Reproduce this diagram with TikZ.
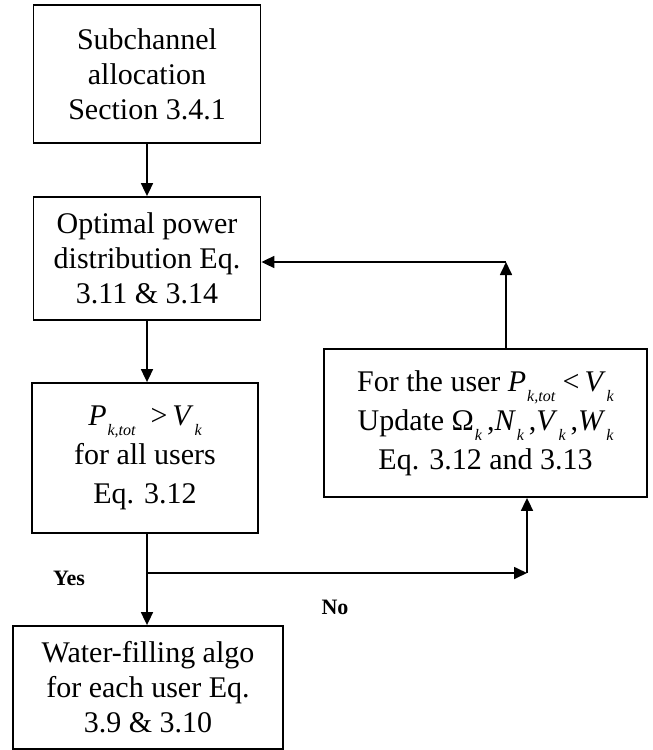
\documentclass[tikz,border=0pt]{standalone}
\usepackage{fontspec}
\setmainfont{Liberation Serif}
\usetikzlibrary{arrows.meta}
\newcommand\sbs[1]{\smash{\raisebox{-0.33em}{\fontsize{16}{16}\selectfont\itshape #1}}}
\newcommand\mv[2]{\textit{#1}\kern0.03em\sbs{#2}}
\newcommand\mvu[2]{#1\kern0.03em\sbs{#2}}
\begin{document}
\begin{tikzpicture}[x=1pt,y=-1pt,
  box/.style={draw,line width=1.8pt,align=center,font=\fontsize{30}{35}\selectfont,inner sep=0pt},
  wbox/.style={box,font=\fontsize{30}{39}\selectfont},
  arr/.style={line width=1.7pt,-{Triangle[length=13pt,width=12pt]}},
  ln/.style={line width=1.7pt},
  lab/.style={font=\fontsize{22}{24}\selectfont\bfseries}]
\useasboundingbox (0,0) rectangle (653,750);
\node[box,minimum width=227pt,minimum height=138pt] (sub) at (147,74) {Subchannel\\allocation\\Section 3.4.1};
\node[box,minimum width=227pt,minimum height=123pt] (opt) at (147,258.5) {Optimal power\\distribution Eq.\\3.11 \& 3.14};
\node[wbox,minimum width=226pt,minimum height=150pt] (cond) at (145,458) {\mv{P}{k,tot}\ \ >\,\mv{V}{k}\\for all users\\Eq. 3.12};
\node[box,minimum width=270pt,minimum height=123pt] (wf) at (148,687.5) {Water-filling algo\\for each user Eq.\\3.9 \& 3.10};
\node[wbox,minimum width=323pt,minimum height=148pt] (upd) at (485.5,423) {For the user \mv{P}{k,tot}\ <\,\mv{V}{k}\\Update \mvu{Ω}{k}\,,\mv{N}{k}\,,\mv{V}{k}\,,\mv{W}{k}\\Eq. 3.12 and 3.13};
\coordinate (c1) at (506,262);
\coordinate (br) at (147,573);
\coordinate (c2) at (527,573);
\draw[arr] (sub.south -| br) -- (opt.north -| br);
\draw[arr] (opt.south -| br) -- (br |- cond.north);
\draw[ln] (br |- cond.south) -- (br);
\draw[arr] (br) -- (wf.north -| br);
\draw[arr] (br) -- (c2);
\draw[arr] (c2) -- (c2 |- upd.south);
\draw[arr] (upd.north -| c1) -- (c1);
\draw[arr] (c1) -- (c1 -| opt.east);
\node[lab] (yes) at (69,578) {Yes};
\node[lab] (no) at (335,607) {No};
\end{tikzpicture}
\end{document}
